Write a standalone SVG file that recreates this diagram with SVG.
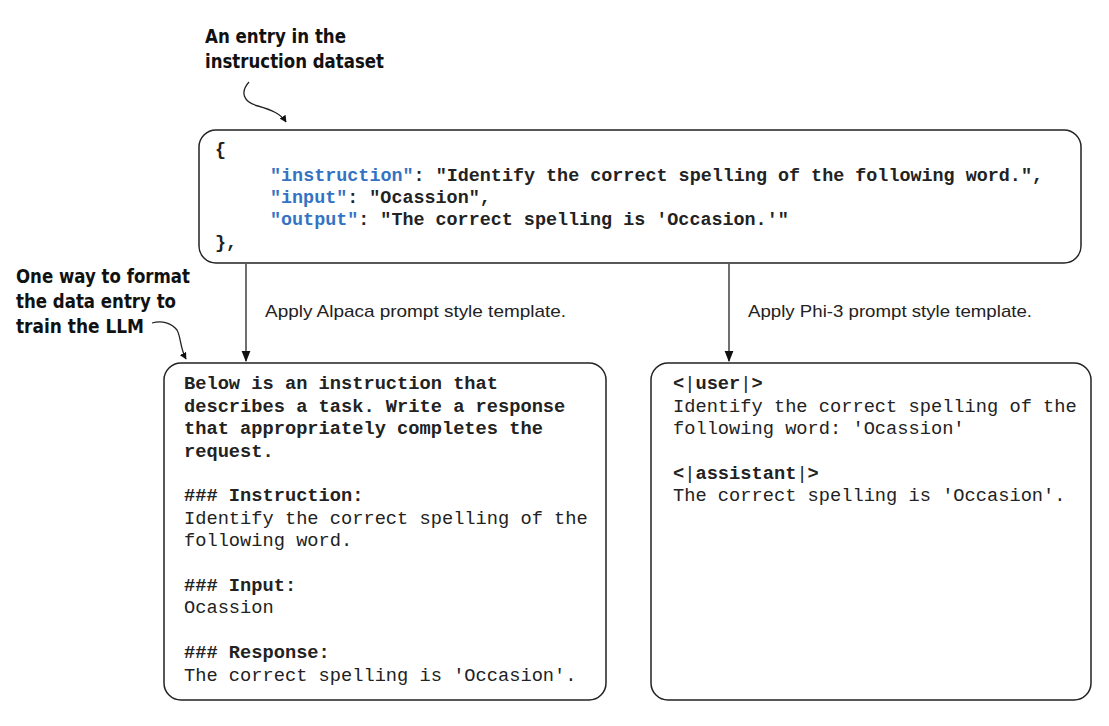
<svg xmlns="http://www.w3.org/2000/svg" width="1109" height="726" viewBox="0 0 1109 726">
<defs>
<marker id="ah" viewBox="0 0 10 10" refX="9" refY="5" markerWidth="7" markerHeight="7" markerUnits="userSpaceOnUse" orient="auto">
<path d="M0,0 L10,5 L0,10 z" fill="#111"/>
</marker>
<marker id="ah2" viewBox="0 0 10 10" refX="9" refY="5" markerWidth="11" markerHeight="11" markerUnits="userSpaceOnUse" orient="auto">
<path d="M0,1 L10,5 L0,9 z" fill="#111"/>
</marker>
</defs>
<style>
.box{fill:#fff;stroke:#222;stroke-width:1.5}
.mono{font-family:"Nimbus Mono PS","Courier New","Liberation Mono",monospace;font-size:18.7px;fill:#222}
.json{font-size:18.4px}
.b{font-weight:bold}
.key{fill:#3473c4}
.bar{font-weight:normal}
.lbl{font-family:"Liberation Sans",Arial,sans-serif;font-size:17px;fill:#222}
.ann{font-family:"DejaVu Sans Condensed","DejaVu Sans",sans-serif;font-weight:bold;font-size:20px;fill:#111}
.conn{fill:none;stroke:#222;stroke-width:1.3}
</style>
<rect width="1109" height="726" fill="#fff"/>

<g id="annotation-entry">
<text class="ann" x="205" y="43" textLength="141" lengthAdjust="spacingAndGlyphs">An entry in the</text>
<text class="ann" x="205" y="68" textLength="179" lengthAdjust="spacingAndGlyphs">instruction dataset</text>
</g>
<g id="annotation-format">
<text class="ann" x="16" y="283" textLength="174" lengthAdjust="spacingAndGlyphs">One way to format</text>
<text class="ann" x="16" y="308" textLength="160" lengthAdjust="spacingAndGlyphs">the data entry to</text>
<text class="ann" x="16" y="333" textLength="128" lengthAdjust="spacingAndGlyphs">train the LLM</text>
</g>

<g id="connectors">
<line class="conn" x1="246" y1="264" x2="246" y2="361" marker-end="url(#ah2)"/>
<line class="conn" x1="729" y1="264" x2="729" y2="361" marker-end="url(#ah2)"/>
<path class="conn" d="M249 82 C 240 92, 243 102, 258 106 C 272 110, 281 114, 286 122" marker-end="url(#ah)"/>
<path class="conn" d="M152 323 C 162 320, 172 323, 177 330 C 181 337, 180 348, 186 359" marker-end="url(#ah)"/>
<text class="lbl" x="265" y="317" textLength="301" lengthAdjust="spacingAndGlyphs">Apply Alpaca prompt style template.</text>
<text class="lbl" x="748" y="317" textLength="284" lengthAdjust="spacingAndGlyphs">Apply Phi-3 prompt style template.</text>
</g>

<g id="json-entry">
<rect class="box" x="199" y="130" width="882" height="133" rx="17"/>
<text class="mono json b" x="215" y="155">{</text>
<text class="mono json b" x="270" y="181" textLength="773" lengthAdjust="spacingAndGlyphs"><tspan class="key">"instruction"</tspan>: "Identify the correct spelling of the following word.",</text>
<text class="mono json b" x="270" y="203"><tspan class="key">"input"</tspan>: "Ocassion",</text>
<text class="mono json b" x="270" y="225"><tspan class="key">"output"</tspan>: "The correct spelling is 'Occasion.'"</text>
<text class="mono json b" x="215" y="248">},</text>
</g>

<g id="alpaca-prompt">
<rect class="box" x="164" y="363" width="442" height="337" rx="17"/>
<text class="mono b" x="184" y="389">Below is an instruction that</text>
<text class="mono b" x="184" y="412">describes a task. Write a response</text>
<text class="mono b" x="184" y="434">that appropriately completes the</text>
<text class="mono b" x="184" y="457">request.</text>
<text class="mono b" x="184" y="501">### Instruction:</text>
<text class="mono" x="184" y="524">Identify the correct spelling of the</text>
<text class="mono" x="184" y="546">following word.</text>
<text class="mono b" x="184" y="591">### Input:</text>
<text class="mono" x="184" y="613">Ocassion</text>
<text class="mono b" x="184" y="658">### Response:</text>
<text class="mono" x="184" y="681">The correct spelling is 'Occasion'.</text>
</g>

<g id="phi3-prompt">
<rect class="box" x="651" y="363" width="440" height="337" rx="17"/>
<text class="mono b" x="673" y="389">&lt;<tspan class="bar">|</tspan>user<tspan class="bar">|</tspan>&gt;</text>
<text class="mono" x="673" y="412">Identify the correct spelling of the</text>
<text class="mono" x="673" y="434">following word: 'Ocassion'</text>
<text class="mono b" x="673" y="479">&lt;<tspan class="bar">|</tspan>assistant<tspan class="bar">|</tspan>&gt;</text>
<text class="mono" x="673" y="501">The correct spelling is 'Occasion'.</text>
</g>
</svg>
